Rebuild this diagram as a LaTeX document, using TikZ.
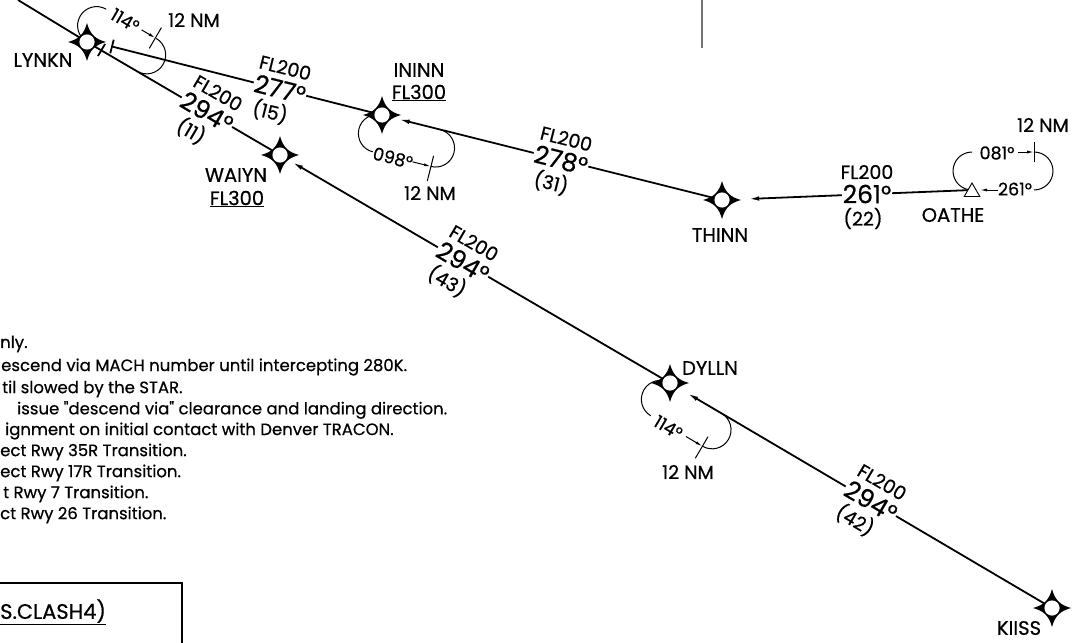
\documentclass[tikz,border=0pt]{standalone}
\usepackage{fontspec}
\setmainfont{Poppins}[FakeBold=0.6,Ligatures=TeXOff]
\usetikzlibrary{arrows.meta,calc,shapes.geometric}
\begin{document}
\begin{tikzpicture}[x=1pt,y=1pt,
  route/.style={line width=1.8pt,black},
  hold/.style={line width=1pt,black},
  arr/.style={-{Latex[length=11pt,width=4.5pt]}},
  harr/.style={-{Latex[length=7pt,width=3pt]}},
  wpt/.style={circle,inner sep=0pt,minimum size=18pt},
  tri/.style={regular polygon,regular polygon sides=3,draw,line width=0.9pt,fill=white,inner sep=0pt,minimum size=18pt},
  wname/.style={font=\fontsize{19.5}{19.5}\selectfont,inner sep=0pt},
  hdgtxt/.style={font=\fontsize{25}{25}\selectfont,inner sep=1pt,fill=white},
  fltxt/.style={font=\fontsize{19}{19}\selectfont,inner sep=0pt},
  holdtxt/.style={font=\fontsize{17.5}{17.5}\selectfont,inner sep=0.5pt,fill=white},
  nmtxt/.style={font=\fontsize{19}{19}\selectfont,inner sep=0pt},
  note/.style={font=\fontsize{16.5}{16.5}\selectfont,inner sep=0pt,anchor=west},
  wstar/.pic={
    \fill[black] (19,0) .. controls (8,3) and (3,8) .. (0,19)
      .. controls (-3,8) and (-8,3) .. (-19,0)
      .. controls (-8,-3) and (-3,-8) .. (0,-19)
      .. controls (3,-8) and (8,-3) .. (19,0) -- cycle;
    \fill[white] (0,0) circle (7.6);
  }]
\useasboundingbox (0,0) rectangle (1078,-642);

% waypoints
\node[wpt] (LYNKN) at (87,-42) {};
\node[wpt] (WAIYN) at (280,-155) {};
\node[wpt] (ININN) at (382,-115) {};
\node[wpt] (THINN) at (722,-200) {};
\node[wpt] (DYLLN) at (670,-383) {};
\node[wpt] (KIISS) at (1052,-608) {};
\coordinate (NW) at (18,0);
\coordinate (LYend) at (112,-46.5);
\coordinate (LYtick) at (101.5,-50);
\coordinate (OAc) at (972,-190);

% routes
\draw[route] (NW) -- (LYNKN.center);
\draw[route] (LYNKN) -- (WAIYN);
\draw[route,arr,shorten >=5pt] (DYLLN) -- (WAIYN);
\draw[route,arr,shorten >=11pt] (KIISS) -- (DYLLN);
\draw[route] (ININN) -- (LYend);
\draw[route] ($(LYend)!7pt!90:(ININN)$) -- ($(LYend)!7pt!-90:(ININN)$);
\draw[route] ($(LYtick)!7pt!90:(WAIYN)$) -- ($(LYtick)!7pt!-90:(WAIYN)$);
\draw[route,arr,shorten >=8pt] (THINN) -- (ININN);
\draw[route,arr,shorten >=17pt] (OAc) -- (THINN);

% holding patterns
\begin{scope}[shift={(LYNKN.center)},rotate=-30.3,transform shape]
  \draw[hold] (0,0) arc[start angle=270,end angle=90,radius=19];
  \node[holdtxt] (LYh) at (22,38) {114°};
  \draw[hold,harr] (41,38) -- (57,38);
  \draw[hold] (57,26) -- (57,50);
  \draw[hold] (58,38) arc[start angle=90,end angle=-90,radius=19];
\end{scope}
\begin{scope}[shift={(ININN.center)},rotate=-14.1,transform shape]
  \draw[hold] (0,0) arc[start angle=90,end angle=270,radius=19];
  \node[holdtxt] (INh) at (21,-39) {098°};
  \draw[hold,harr] (41,-38) -- (60,-38);
  \draw[hold] (60,-27) -- (60,-53);
  \draw[hold] (60,-38) arc[start angle=-90,end angle=90,radius=19];
\end{scope}
\begin{scope}[shift={(DYLLN.center)},rotate=-30.5,transform shape]
  \draw[hold] (0,0) arc[start angle=90,end angle=270,radius=19];
  \node[holdtxt] (DYh) at (21,-39) {114°};
  \draw[hold,harr] (41,-38) -- (60,-38);
  \draw[hold] (60,-27) -- (60,-52);
  \draw[hold] (60,-38) arc[start angle=-90,end angle=90,radius=19];
\end{scope}
\begin{scope}[shift={(OAc)}]
  \draw[hold] (0,0) arc[start angle=270,end angle=90,radius=19];
  \node[holdtxt] (OAout) at (25,37) {081°};
  \draw[hold,harr] (46,38) -- (62,38);
  \draw[hold] (62,28) -- (62,48);
  \draw[hold] (62,38) arc[start angle=90,end angle=-90,radius=19];
  \node[holdtxt] (OAin) at (43,1) {261°};
  \draw[hold,harr] (26,0) -- (8,0);
\end{scope}
\node[tri] (OATHE) at (972,-192) {};

\node[nmtxt] (LY12) at (194,-20) {12 NM};
\node[nmtxt] (IN12) at (430,-193) {12 NM};
\node[nmtxt] (DY12) at (688,-472) {12 NM};
\node[nmtxt] (OA12) at (1043,-125) {12 NM};

% segment labels
\newcommand\seglbl[6]{%
  \begin{scope}[shift={#2},rotate=#3,transform shape]
    \node[hdgtxt] (#1h) at (0,0) {#4};
    \node[fltxt] (#1f) at (0,22) {FL200};
    \node[fltxt] (#1d) at (-4,-24.5) {#5};
  \end{scope}}
\seglbl{sA}{(280,-89)}{-14.1}{277°}{(15)}{}
\seglbl{sB}{(207,-112)}{-30.3}{294°}{(11)}{}
\seglbl{sC}{(561,-160)}{-14.1}{278°}{(31)}{}
\seglbl{sD}{(867,-194)}{0}{261°}{(22)}{}
\seglbl{sE}{(463,-262)}{-30.3}{294°}{(43)}{}
\seglbl{sF}{(871,-501)}{-30.5}{294°}{(42)}{}

% stars
\foreach \w in {LYNKN,WAIYN,ININN,THINN,DYLLN,KIISS}{\pic at (\w.center) {wstar};}

% waypoint names
\node[wname] (LYNKNn) at (43,-60) {LYNKN};
\node[wname] (WAIYNn) at (236,-175) {WAIYN};
\node[wname] (WAIYNa) at (237,-199) {\underline{FL300}};
\node[wname] (ININNn) at (419,-70) {ININN};
\node[wname] (ININNa) at (419,-93) {\underline{FL300}};
\node[wname] (THINNn) at (720,-235) {THINN};
\node[wname] (OATHEn) at (953,-215) {OATHE};
\node[wname] (DYLLNn) at (710,-368) {DYLLN};
\node[wname] (KIISSn) at (1019,-628) {KIISS};

% gray line
\draw[line width=1.5pt,black!55] (702,0) -- (702,-48);

% notes
\node[note] (n1) at (0,-344) {nly.};
\node[note] (n2) at (1,-367) {escend via MACH number until intercepting 280K.};
\node[note] (n3) at (2,-389) {til slowed by the STAR.};
\node[note] (n4) at (17,-410) {issue "descend via" clearance and landing direction.};
\node[note] (n5) at (5,-431) {ignment on initial contact with Denver TRACON.};
\node[note] (n6) at (0,-452) {ect Rwy 35R Transition.};
\node[note] (n7) at (0,-473) {ect Rwy 17R Transition.};
\node[note] (n8) at (3,-494) {t Rwy 7 Transition.};
\node[note] (n9) at (0,-515) {ct Rwy 26 Transition.};

% box
\draw[line width=1.5pt] (-10,-583) rectangle (182,-660);
\node[note,font=\fontsize{21}{21}\selectfont] (bx) at (0,-612) {\underline{S.CLASH4)}};
\end{tikzpicture}
\end{document}
